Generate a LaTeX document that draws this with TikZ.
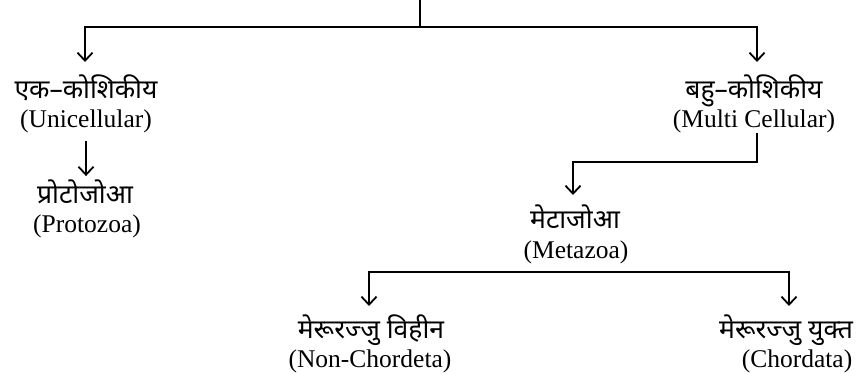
\documentclass[tikz,border=0pt]{standalone}
\usepackage{fontspec}
\setmainfont{Liberation Serif}
\newfontfamily\hindi[Script=Devanagari]{Noto Sans}
\usetikzlibrary{arrows.meta}
\begin{document}
\begin{tikzpicture}[x=1pt,y=1pt,
  ln/.style={line width=1.8pt,line cap=rect},
  arr/.style={line width=1.8pt,-{Straight Barb[length=8pt,width=15pt,line width=1.8pt]}},
  hin/.style={inner sep=0pt,anchor=base,font=\hindi\fontsize{26.5}{30}\selectfont},
  eng/.style={inner sep=0pt,anchor=base,font=\fontsize{25.5}{30}\selectfont}]
\useasboundingbox (0,0) rectangle (859,-374);
% nodes
\node[hin] (uni) at (86,-99) {एक–कोशिकीय};
\node[eng] (unie) at (86,-128) {(Unicellular)};
\node[hin] (pro) at (85,-204) {प्रोटोजोआ};
\node[eng] (proe) at (87,-233) {(Protozoa)};
\node[hin] (multi) at (754,-99) {बहु–कोशिकीय};
\node[eng] (multie) at (754,-128) {(Multi Cellular)};
\node[hin] (meta) at (575,-229) {मेटाजोआ};
\node[eng] (metae) at (576,-258) {(Metazoa)};
\node[hin] (nonc) at (371,-338) {मेरूरज्जु विहीन};
\node[eng] (nonce) at (370,-367) {(Non-Chordeta)};
\node[hin] (chor) at (786,-338) {मेरूरज्जु युक्त};
\node[eng] (chore) at (797,-367) {(Chordata)};
% junctions
\coordinate (top) at (420,0);
\coordinate (j0) at (420,-27);
\coordinate (jl) at (85,-27);
\coordinate (jr) at (757,-27);
\coordinate (jm) at (757,-162);
\coordinate (jml) at (573,-162);
\coordinate (bl) at (369,-272);
\coordinate (br) at (789,-272);
% connectors
\draw[ln] (top) -- (j0);
\draw[ln] (jl) -- (jr);
\draw[arr] (jl) -- ++(0,-35);
\draw[arr] (jr) -- ++(0,-35);
\draw[arr] ([shift={(0pt,-7pt)}]unie.south) -- ([shift={(1pt,4pt)}]pro.north);
\draw[ln] (multie.south -| jm) -- (jm) -- (jml);
\draw[arr] (jml) -- ++(0,-33);
\draw[ln] (bl) -- (br);
\draw[arr] (bl) -- ++(0,-34);
\draw[arr] (br) -- ++(0,-34);
\end{tikzpicture}
\end{document}
